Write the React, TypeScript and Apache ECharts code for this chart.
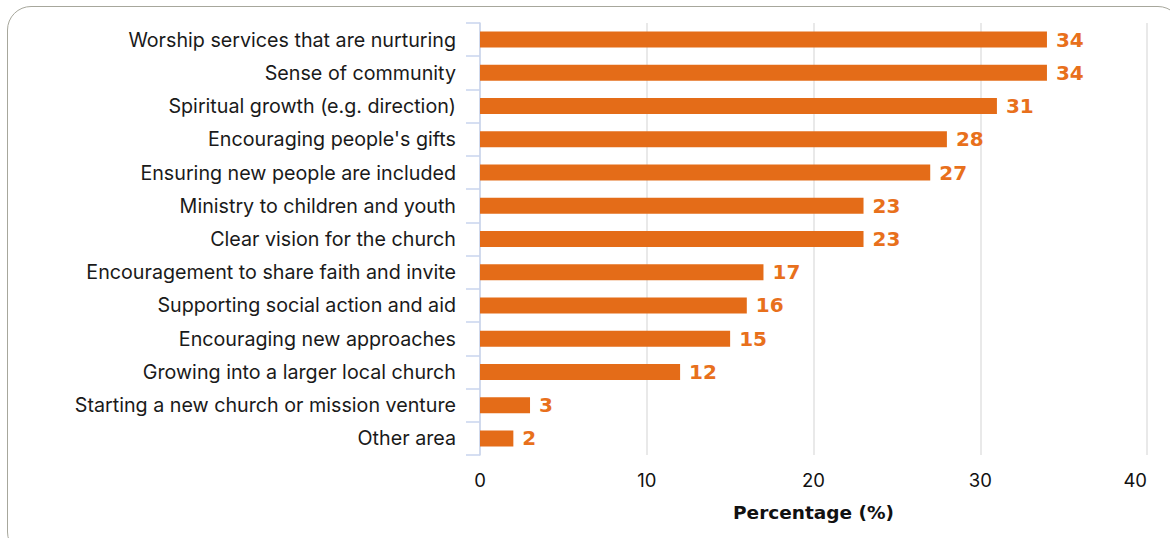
import React, { useEffect, useRef } from "react";
import * as echarts from "echarts";

const categories = [
  "Worship services that are nurturing",
  "Sense of community",
  "Spiritual growth (e.g. direction)",
  "Encouraging people's gifts",
  "Ensuring new people are included",
  "Ministry to children and youth",
  "Clear vision for the church",
  "Encouragement to share faith and invite",
  "Supporting social action and aid",
  "Encouraging new approaches",
  "Growing into a larger local church",
  "Starting a new church or mission venture",
  "Other area",
];
const values = [34, 34, 31, 28, 27, 23, 23, 17, 16, 15, 12, 3, 2];
const axisName = "Percentage (%)";

export default function App() {
  const ref = useRef<HTMLDivElement>(null);
  useEffect(() => {
    if (!ref.current) return;
    const chart = echarts.init(ref.current, null, { renderer: "svg" });
    chart.setOption({
      animation: false,
      grid: { left: 480, right: 23, top: 23, bottom: 83, containLabel: false },
      xAxis: {
        type: "value",
        min: 0,
        max: 40,
        interval: 10,
        name: axisName,
        nameLocation: "middle",
        nameGap: 48,
        nameTextStyle: { fontFamily: "DejaVu Sans", fontWeight: "bold", fontSize: 18.5, color: "#111" },
        axisLine: { show: false },
        axisTick: { show: false },
        axisLabel: { fontFamily: "Inter", fontSize: 18.5, color: "#111", margin: 15, alignMaxLabel: "right" },
        splitLine: { show: true, lineStyle: { color: "#e2e2e2", width: 1.5 } },
      },
      yAxis: {
        type: "category",
        data: categories,
        inverse: true,
        axisLine: { show: true, lineStyle: { color: "#c9d4ee", width: 1.5 } },
        axisTick: { show: true, length: 14, lineStyle: { color: "#c9d4ee", width: 1.5 } },
        axisLabel: { fontFamily: "Inter", fontSize: 19.7, color: "#1a1a1a", margin: 24 },
      },
      series: [
        {
          type: "bar",
          data: values,
          barWidth: 16,
          itemStyle: { color: "#e46c18" },
          label: {
            show: true,
            position: "right",
            distance: 9,
            fontFamily: "DejaVu Sans",
            fontWeight: 600,
            fontSize: 20,
            color: "#e8701c",
          },
        },
      ],
    });
    return () => chart.dispose();
  }, []);
  return (
    <div style={{ position: "absolute", left: 0, top: 0, width: 1170, height: 538, overflow: "hidden" }}>
      <div
        style={{
          position: "absolute",
          left: 7,
          top: 6,
          width: 1175,
          height: 550,
          border: "1.5px solid #a7a79c",
          borderRadius: 24,
          boxSizing: "border-box",
        }}
      />
      <div ref={ref} style={{ position: "absolute", left: 0, top: 0, width: 1170, height: 538 }} />
    </div>
  );
}
